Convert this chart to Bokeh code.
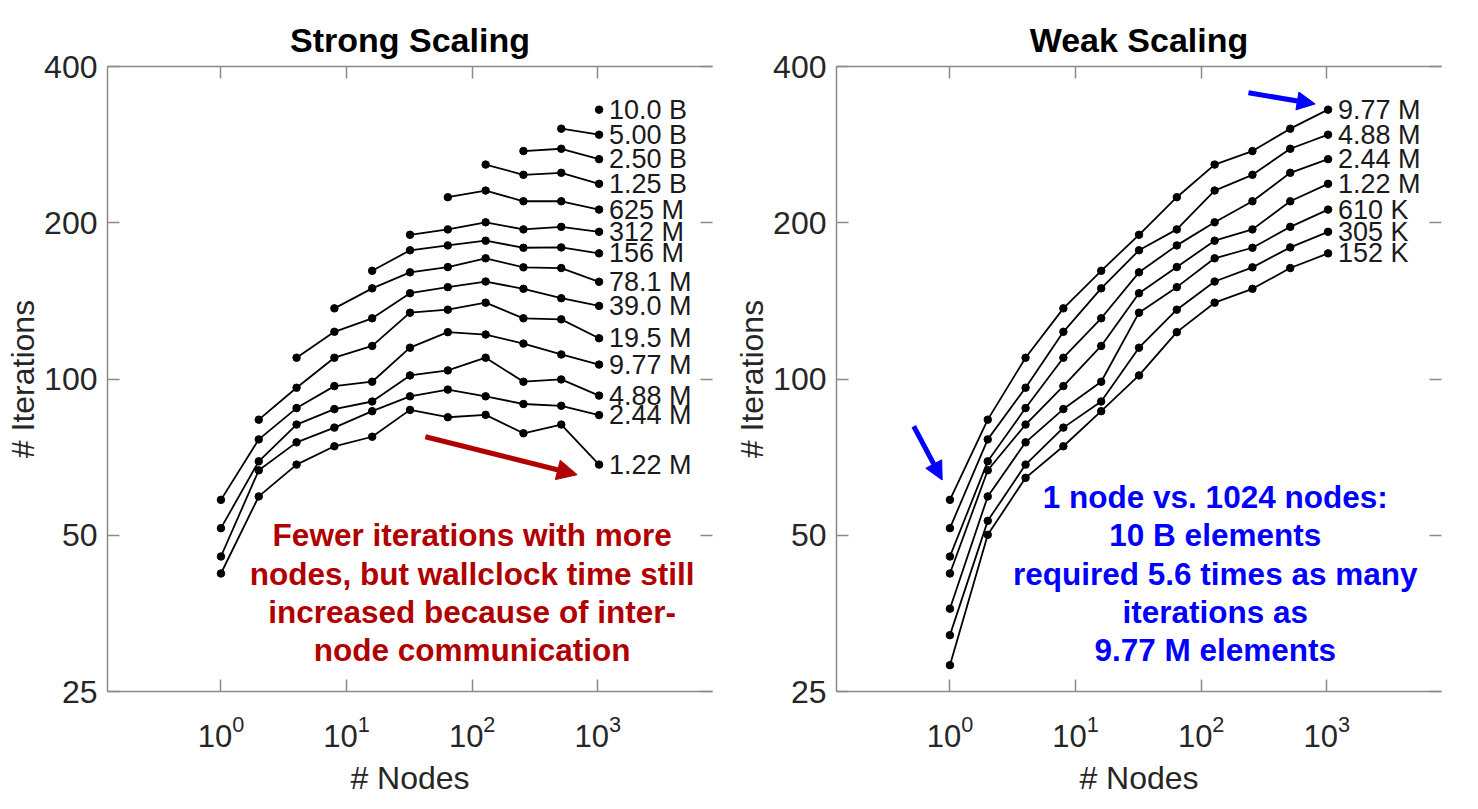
from bokeh.plotting import figure
from bokeh.layouts import row
from bokeh.models import (LogAxis, FixedTicker, Range1d, ColumnDataSource, LabelSet,
                          Label, Arrow, NormalHead, BasicTickFormatter, LogTickFormatter)
from bokeh.core.properties import value
from bokeh.embed import file_html
from bokeh.resources import INLINE

# ---------------- data ----------------
nodes = [1, 2, 4, 8, 16, 32, 64, 128, 256, 512, 1024]

x_ticks = [1, 10, 100, 1000]          # shown as 10^0 ... 10^3
y_ticks = [25, 50, 100, 200, 400]

# Strong scaling (each series starts at the smallest node count it was run on)
strong_labels = ["10.0 B", "5.00 B", "2.50 B", "1.25 B", "625 M", "312 M", "156 M",
                 "78.1 M", "39.0 M", "19.5 M", "9.77 M", "4.88 M", "2.44 M", "1.22 M"]
s_10p0B = [330.3]
s_5p00B = [303.6, 295.6]
s_2p50B = [274.9, 277.7, 265.2]
s_1p25B = [258.9, 247.4, 249.6, 237.7]
s_625M = [224.0, 230.7, 220.0, 220.0, 212.0]
s_312M = [189.6, 194.2, 200.4, 194.2, 196.4, 192.1]
s_156M = [161.6, 177.0, 180.9, 184.7, 179.0, 179.3, 174.6]
s_78p1M = [136.8, 149.5, 160.5, 164.3, 170.8, 164.1, 163.6, 153.9]
s_39p0M = [109.9, 123.3, 130.9, 146.3, 150.3, 154.1, 149.2, 143.1, 138.3]
s_19p5M = [83.5, 96.2, 109.9, 115.8, 134.2, 136.0, 140.3, 130.9, 130.3, 119.8]
s_9p77M = [58.5, 76.5, 87.9, 96.9, 98.8, 114.9, 123.1, 121.8, 117.0, 111.5, 106.6]
s_4p88M = [51.6, 69.4, 81.7, 87.5, 90.5, 101.6, 103.9, 109.9, 98.8, 99.8, 92.9]
s_2p44M = [45.5, 66.7, 75.5, 80.6, 86.7, 92.6, 95.4, 92.6, 89.5, 88.8, 85.2]
s_1p22M = [42.2, 59.4, 68.4, 74.2, 77.4, 87.2, 84.4, 85.3, 78.6, 81.7, 68.4]
strong_series = [s_10p0B, s_5p00B, s_2p50B, s_1p25B, s_625M, s_312M, s_156M,
                 s_78p1M, s_39p0M, s_19p5M, s_9p77M, s_4p88M, s_2p44M, s_1p22M]

# Weak scaling (problem size per node)
weak_labels = ["9.77 M", "4.88 M", "2.44 M", "1.22 M", "610 K", "305 K", "152 K"]
w_9p77M = [58.5, 83.5, 109.9, 136.8, 161.6, 189.6, 224.0, 258.9, 274.9, 303.6, 330.3]
w_4p88M = [51.6, 76.5, 96.2, 123.3, 149.5, 177.0, 194.2, 230.7, 247.4, 277.7, 295.6]
w_2p44M = [45.5, 69.4, 87.9, 109.9, 130.9, 160.5, 180.9, 200.4, 220.0, 249.6, 265.2]
w_1p22M = [42.2, 66.7, 81.7, 96.9, 115.8, 146.3, 164.3, 184.7, 194.2, 220.0, 237.7]
w_610K = [36.1, 59.4, 75.5, 87.5, 98.8, 134.2, 150.3, 170.8, 179.0, 196.4, 212.0]
w_305K = [32.1, 53.3, 68.4, 80.6, 90.5, 114.9, 136.0, 154.1, 164.1, 179.3, 192.1]
w_152K = [28.1, 50.1, 64.5, 74.2, 86.7, 101.6, 123.1, 140.3, 149.2, 163.6, 174.6]
weak_series = [w_9p77M, w_4p88M, w_2p44M, w_1p22M, w_610K, w_305K, w_152K]

red_note = ["Fewer iterations with more", "nodes, but wallclock time still",
            "increased because of inter-", "node communication"]
blue_note = ["1 node vs. 1024 nodes:", "10 B elements", "required 5.6 times as many",
             "iterations as", "9.77 M elements"]

# ---------------- style ----------------
FONT = "Liberation Sans"
GRAY = "#8a8a8a"
TXT = "#262626"
RED = "#b00000"
BLUE = "#0000ff"
H = 805


def style(ax):
    ax.axis_line_color = GRAY
    ax.axis_line_width = 1.5
    ax.major_tick_line_color = GRAY
    ax.major_tick_line_width = 1.5
    ax.major_tick_in = 12
    ax.major_tick_out = 0
    ax.minor_tick_line_color = None
    ax.major_label_text_font = FONT
    ax.major_label_text_font_size = "32px"
    ax.major_label_text_color = TXT
    ax.axis_label_text_font = FONT
    ax.axis_label_text_font_size = "32px"
    ax.axis_label_text_font_style = "normal"
    ax.axis_label_text_color = TXT


def make_fig(title, width, bl, br):
    p = figure(width=width, height=H, x_axis_type="log", y_axis_type="log",
               x_range=Range1d(0.125, 8192), y_range=Range1d(25, 400),
               output_backend="svg", toolbar_location=None,
               min_border_left=bl, min_border_right=br,
               min_border_top=66, min_border_bottom=H - 691)
    p.outline_line_color = None
    p.xgrid.visible = False
    p.ygrid.visible = False
    p.background_fill_color = "white"
    p.border_fill_color = "white"
    p.title.text = title
    p.title.align = "center"
    p.title.text_font = FONT
    p.title.text_font_size = "34px"
    p.title.text_font_style = "bold"
    p.title.text_color = "#000000"
    p.title.standoff = 16

    xa = p.xaxis[0]
    style(xa)
    xa.ticker = FixedTicker(ticks=x_ticks)
    xa.formatter = LogTickFormatter()
    xa.major_label_text_font_size = "31px"
    xa.major_label_standoff = 23
    xa.axis_label = "# Nodes"
    xa.axis_label_standoff = 10

    ya = p.yaxis[0]
    style(ya)
    ya.ticker = FixedTicker(ticks=y_ticks)
    ya.formatter = BasicTickFormatter()
    ya.major_label_standoff = 10
    ya.axis_label = "# Iterations"
    ya.axis_label_standoff = 0

    top = LogAxis(ticker=FixedTicker(ticks=x_ticks))
    style(top)
    top.major_label_text_font_size = "2px"
    top.major_label_text_color = None
    top.major_label_standoff = 0
    p.add_layout(top, "above")

    right = LogAxis(ticker=FixedTicker(ticks=y_ticks))
    style(right)
    right.axis_line_color = None
    right.major_label_text_font_size = "2px"
    right.major_label_text_color = None
    right.major_label_standoff = 0
    p.add_layout(right, "right")
    return p


def draw_series(p, labels, series):
    lx, ly, lt = [], [], []
    for lab, vals in zip(labels, series):
        xs = nodes[len(nodes) - len(vals):]
        p.line(xs, vals, line_color="black", line_width=1.8)
        p.scatter(xs, vals, size=7.5, color="black")
        lx.append(xs[-1])
        ly.append(vals[-1])
        lt.append(lab)
    src = ColumnDataSource(data=dict(x=lx, y=ly, t=lt))
    p.add_layout(LabelSet(x="x", y="y", text="t", source=src, x_offset=10,
                          text_baseline="middle", text_align="left",
                          text_font=value(FONT), text_font_size="27px",
                          text_color="#1a1a1a"))


def draw_note(p, lines, xc, ys, color):
    for txt, yv in zip(lines, ys):
        p.add_layout(Label(x=xc, y=yv, text=txt, text_align="center",
                           text_baseline="middle", text_font=FONT,
                           text_font_size="31.5px", text_font_style="bold",
                           text_color=color))


# ---------------- strong scaling ----------------
p1 = make_fig("Strong Scaling", 730, 107, 18)
draw_series(p1, strong_labels, strong_series)
p1.add_layout(Arrow(x_start=42.4, y_start=77.4, x_end=686, y_end=65.4,
                    line_color=RED, line_width=5,
                    end=NormalHead(size=20, fill_color=RED, line_color=RED)))
draw_note(p1, red_note, 100, [50.0, 42.1, 35.6, 30.0], RED)

# ---------------- weak scaling ----------------
p2 = make_fig("Weak Scaling", 748, 106, 37)
draw_series(p2, weak_labels, weak_series)
p2.add_layout(Arrow(x_start=238, y_start=356, x_end=809, y_end=338.8,
                    line_color=BLUE, line_width=5,
                    end=NormalHead(size=18, fill_color=BLUE, line_color=BLUE)))
p2.add_layout(Arrow(x_start=0.515, y_start=81.1, x_end=0.867, y_end=63.9,
                    line_color=BLUE, line_width=5,
                    end=NormalHead(size=18, fill_color=BLUE, line_color=BLUE)))
draw_note(p2, blue_note, 129.5, [59.2, 50.0, 42.1, 35.6, 30.0], BLUE)

layout = row(p1, p2)
open("out.html", "w").write(file_html(layout, INLINE))
